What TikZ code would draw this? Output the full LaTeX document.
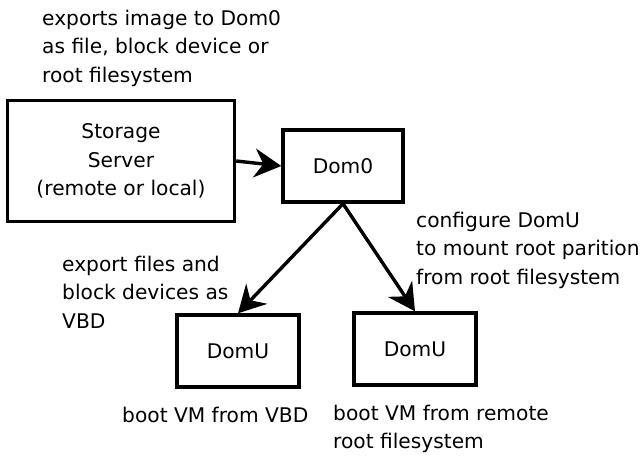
\documentclass[tikz,border=0pt]{standalone}
\usepackage{fontspec}
\setmainfont{DejaVu Sans}
\usetikzlibrary{arrows.meta}
\begin{document}
\begin{tikzpicture}[x=1pt,y=-1pt,
  box/.style={draw, line width=3.4pt, align=center, font=\fontsize{20.2}{28.5}\selectfont},
  lbl/.style={align=left, inner sep=0pt, font=\fontsize{20.2}{28.3}\selectfont},
  arr/.style={line width=3.4pt, -{Stealth[length=27pt,width=29pt,inset=9pt]}}]
\useasboundingbox (0,0) rectangle (644,459);
\node[box, minimum width=227pt, minimum height=121pt] (storage) at (121,161) {Storage\\Server\\(remote or local)};
\node[box, minimum width=120pt, minimum height=72pt] (dom0) at (343,166) {Dom0};
\node[box, minimum width=122pt, minimum height=72pt] (domul) at (238,351) {DomU};
\node[box, minimum width=122pt, minimum height=72pt] (domur) at (415,349) {DomU};
\draw[arr] (storage.east) -- (dom0.west);
\draw[arr] (dom0.south) -- (domul.north);
\draw[arr] (dom0.south) -- (domur.north);
\node[lbl, anchor=north west] (t1) at (42,10) {exports image to Dom0\\as file, block device or\\root filesystem};
\node[lbl, anchor=north west] (t2) at (416,212) {configure DomU\\to mount root parition\\from root filesystem};
\node[lbl, anchor=north west] (t3) at (62,256) {export files and\\block devices as\\VBD};
\node[lbl, anchor=north west] (t4) at (122,407) {boot VM from VBD};
\node[lbl, anchor=north west] (t5) at (333,405) {boot VM from remote\\root filesystem};
\end{tikzpicture}
\end{document}
